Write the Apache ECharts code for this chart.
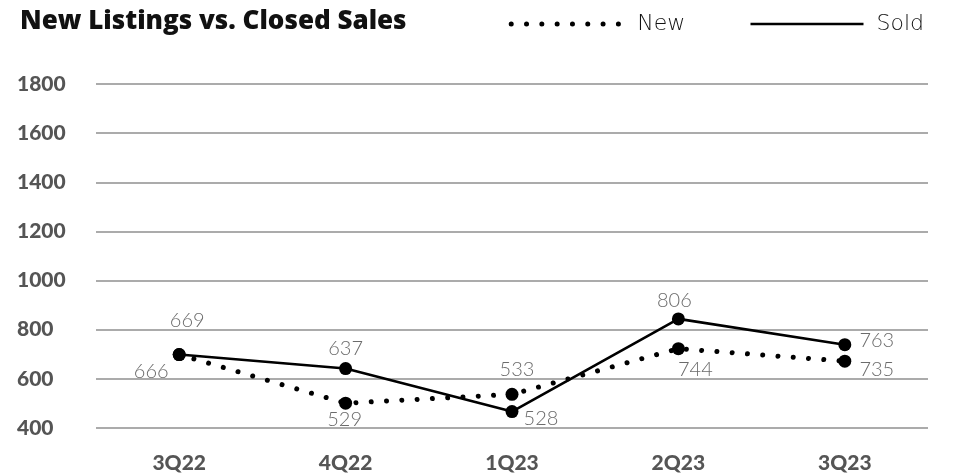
<!DOCTYPE html>
<html>
<head>
<meta charset="utf-8">
<script src="https://cdn.jsdelivr.net/npm/echarts@6/dist/echarts.min.js"></script>
<style>
html,body{margin:0;padding:0;background:#fff;}
#chart{width:955px;height:474px;}
</style>
</head>
<body>
<div id="chart"></div>
<script>
// ---- data ----
const categories = ['3Q22', '4Q22', '1Q23', '2Q23', '3Q23'];
const newValues  = [699, 501, 537, 723, 672];
const soldValues = [699, 642, 467, 844, 739];
const newLabels  = ['666', '529', '533', '744', '735'];
const soldLabels = ['669', '637', '528', '806', '763'];
const yTicks = [400, 600, 800, 1000, 1200, 1400, 1600, 1800];

// ---- label placement (style only) ----
const newLabelOffsets  = [[-28, 17], [-1, 16], [5, -25], [17, 21], [32, 8]];
const soldLabelOffsets = [[8, -34], [0, -20], [29, 7], [-4, -18], [32, -4]];

const labelFont = { fontFamily: 'Lato', fontWeight: 300, fontSize: 20, color: '#6b6b6b' };
const dottedStyle = { color: '#000', width: 5, type: [0.01, 15.3], cap: 'round' };
const solidStyle  = { color: '#000', width: 2.6, type: 'solid' };

function buildData(values, labels, offsets) {
  return values.map((v, i) => ({
    value: v,
    label: Object.assign({ show: true, position: 'inside', offset: offsets[i],
      formatter: () => labels[i] }, labelFont)
  }));
}

const chart = echarts.init(document.getElementById('chart'), null, { renderer: 'canvas' });
chart.setOption({
  animation: false,
  backgroundColor: '#ffffff',
  title: {
    text: 'New Listings vs. Closed Sales',
    left: 15, top: 4,
    textStyle: { fontFamily: 'Open Sans', fontWeight: 800, fontSize: 26, color: '#111' }
  },
  legend: {
    right: 26, top: 8,
    itemWidth: 113, itemHeight: 6, itemGap: 64,
    itemStyle: { opacity: 0 },
    textStyle: { fontFamily: 'DejaVu Sans', fontWeight: 200, fontSize: 22, color: '#111', padding: [0, 0, 0, 8] },
    data: [
      { name: 'New', lineStyle: dottedStyle },
      { name: 'Sold', lineStyle: solidStyle }
    ]
  },
  grid: { left: 96, right: 27, top: 84, bottom: 44, containLabel: false },
  xAxis: {
    type: 'category',
    data: categories,
    boundaryGap: true,
    axisLine: { show: false },
    axisTick: { show: false },
    axisLabel: { margin: 25, fontFamily: 'Lato', fontWeight: 900, fontSize: 21, color: '#555' }
  },
  yAxis: {
    type: 'value',
    min: yTicks[0], max: yTicks[yTicks.length - 1], interval: 200,
    axisLine: { show: false },
    axisTick: { show: false },
    axisLabel: { align: 'left', margin: 79, fontFamily: 'Lato', fontWeight: 900, fontSize: 21, color: '#555',
      formatter: v => String(v) },
    splitLine: { lineStyle: { color: '#8f8f8f', width: 1.5 } }
  },
  series: [
    {
      name: 'New', type: 'line',
      data: buildData(newValues, newLabels, newLabelOffsets),
      symbol: 'circle', symbolSize: 13,
      itemStyle: { color: '#000' },
      lineStyle: dottedStyle,
      z: 2
    },
    {
      name: 'Sold', type: 'line',
      data: buildData(soldValues, soldLabels, soldLabelOffsets),
      symbol: 'circle', symbolSize: 13,
      itemStyle: { color: '#000' },
      lineStyle: solidStyle,
      z: 3
    }
  ]
});
</script>
</body>
</html>
